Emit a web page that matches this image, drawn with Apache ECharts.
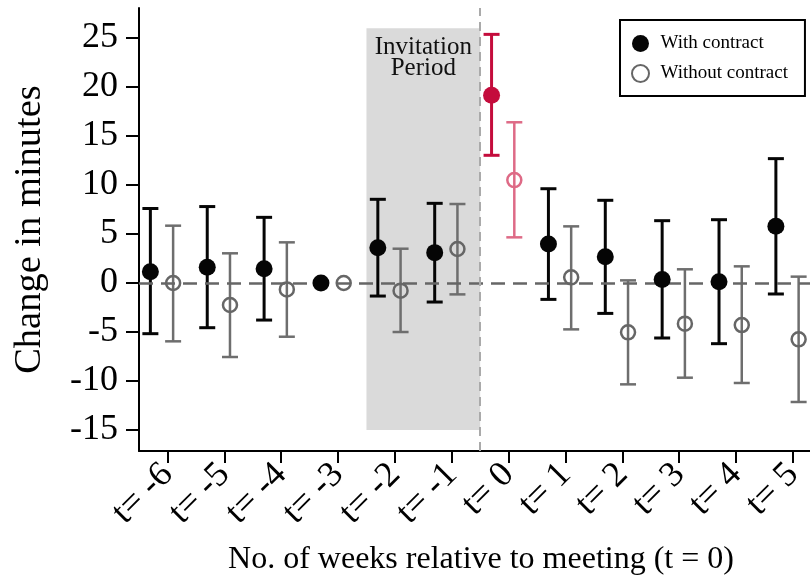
<!DOCTYPE html>
<html>
<head>
<meta charset="utf-8">
<script src="https://cdn.jsdelivr.net/npm/echarts@6/dist/echarts.min.js"></script>
<style>html,body{margin:0;padding:0;background:#fff}#c{width:810px;height:581px}</style>
</head>
<body>
<div id="c"></div>
<script>
// ---- data ----
var weeks = [-6, -5, -4, -3, -2, -1, 0, 1, 2, 3, 4, 5];
var weekLabels = ['t= -6','t= -5','t= -4','t= -3','t= -2','t= -1','t= 0','t= 1','t= 2','t= 3','t= 4','t= 5'];
var yTicks = [-15, -10, -5, 0, 5, 10, 15, 20, 25];
var withMean = [1.15, 1.6, 1.46, 0, 3.6, 3.1, 19.15, 3.98, 2.69, 0.37, 0.14, 5.78];
var withLo   = [-5.17, -4.56, -3.78, null, -1.33, -1.94, 13.03, -1.67, -3.1, -5.61, -6.19, -1.12];
var withHi   = [7.6, 7.8, 6.7, null, 8.54, 8.13, 25.37, 9.62, 8.44, 6.36, 6.46, 12.69];
var withoutMean = [0, -2.24, -0.65, 0, -0.78, 3.47, 10.5, 0.58, -5.03, -4.15, -4.29, -5.75];
var withoutLo   = [-5.95, -7.55, -5.48, null, -5.0, -1.16, 4.66, -4.73, -10.34, -9.66, -10.2, -12.14];
var withoutHi   = [5.85, 3.03, 4.15, null, 3.5, 8.06, 16.4, 5.78, 0.27, 1.4, 1.7, 0.65];
var invitationPeriod = [-2.5, -0.5];
var meetingLine = -0.5;

// ---- style ----
var FONT = 'Liberation Serif';
var OFF_WITH = -0.3, OFF_WITHOUT = 0.1;
var BLACK = '#050505', GRAY = '#666666', GRAYBAR = '#6e6e6e';
var CRIMSON = '#C40C3C', PINK = '#DE6A86';

function scatterData(means, off, hiColor, hollow) {
  return weeks.map(function (w, i) {
    var d = { value: [w + off, means[i]] };
    if (w === 0) {
      d.itemStyle = hollow ? { color: 'transparent', borderColor: hiColor, borderWidth: 2.5 } : { color: hiColor };
    }
    return d;
  });
}
function barData(lo, hi, off) {
  var out = [];
  weeks.forEach(function (w, i) {
    if (lo[i] !== null && hi[i] !== null) out.push([w + off, lo[i], hi[i], w]);
  });
  return out;
}
function barSeries(data, color, hiColor, lw, z) {
  return {
    type: 'custom', data: data, z: z, silent: true,
    encode: { x: 0, y: [1, 2] },
    renderItem: function (params, api) {
      var x = api.value(0), l = api.value(1), h = api.value(2), w = api.value(3);
      var pt = api.coord([x, h]), pb = api.coord([x, l]);
      var c = (w === 0) ? hiColor : color;
      var cw = 8;
      var st = { stroke: c, lineWidth: lw, fill: null };
      return {
        type: 'group',
        children: [
          { type: 'line', shape: { x1: pt[0], y1: pt[1], x2: pb[0], y2: pb[1] }, style: st },
          { type: 'line', shape: { x1: pt[0] - cw, y1: pt[1], x2: pt[0] + cw, y2: pt[1] }, style: st },
          { type: 'line', shape: { x1: pb[0] - cw, y1: pb[1], x2: pb[0] + cw, y2: pb[1] }, style: st }
        ]
      };
    }
  };
}

var chart = echarts.init(document.getElementById('c'), null, { renderer: 'canvas' });
chart.setOption({
  animation: false,
  textStyle: { fontFamily: FONT },
  grid: { left: 139, right: 0, top: 8, bottom: 130 },
  legend: {
    left: 620, top: 20, orient: 'vertical',
    data: ['With contract', 'Without contract'],
    itemWidth: 30, itemHeight: 17, itemGap: 11,
    padding: [14, 17, 13, 11],
    borderColor: '#000', borderWidth: 2, backgroundColor: '#fff',
    textStyle: { fontFamily: FONT, fontSize: 19, color: '#000', lineHeight: 17 }
  },
  xAxis: {
    type: 'value', min: -6.5, max: 5.3,
    name: 'No. of weeks relative to meeting (t = 0)', nameLocation: 'middle', nameGap: 93,
    nameTextStyle: { fontFamily: FONT, fontSize: 32, color: '#000', padding: [0, 0, 0, 13] },
    axisLine: { onZero: false, lineStyle: { color: '#000', width: 2 } },
    axisTick: { customValues: weeks, length: 12, lineStyle: { color: '#000', width: 2 } },
    axisLabel: {
      customValues: weeks, rotate: 45, margin: 18,
      fontFamily: FONT, fontSize: 36, color: '#000',
      formatter: function (v) { var i = weeks.indexOf(Math.round(v)); return i >= 0 ? weekLabels[i] : ''; }
    },
    splitLine: { show: false }
  },
  yAxis: {
    type: 'value', min: -17.14, max: 28.06,
    name: 'Change in minutes', nameLocation: 'middle', nameGap: 90,
    nameTextStyle: { fontFamily: FONT, fontSize: 38.5, color: '#000' },
    axisLine: { show: true, onZero: false, lineStyle: { color: '#000', width: 2 } },
    axisTick: { show: true, customValues: yTicks, length: 13, lineStyle: { color: '#000', width: 2 } },
    axisLabel: { customValues: yTicks, margin: 21, fontFamily: FONT, fontSize: 36, color: '#000' },
    splitLine: { show: false }
  },
  series: [
    {
      type: 'line', data: [], z: 1, silent: true,
      markArea: {
        silent: true,
        itemStyle: { color: '#dadada' },
        label: {
          show: true, position: 'insideTop', distance: 9,
          formatter: 'Invitation\nPeriod',
          fontFamily: FONT, fontSize: 25, lineHeight: 21, color: '#111'
        },
        data: [[{ xAxis: invitationPeriod[0], yAxis: -15 }, { xAxis: invitationPeriod[1], yAxis: 26 }]]
      },
      markLine: {
        silent: true, symbol: 'none', animation: false,
        label: { show: false },
        data: [
          { yAxis: 0, lineStyle: { color: '#666', width: 2.5, type: [14, 8] } },
          { xAxis: meetingLine, lineStyle: { color: '#aaaaaa', width: 2, type: [9, 6] } }
        ]
      }
    },
    barSeries(barData(withLo, withHi, OFF_WITH), BLACK, CRIMSON, 3, 3),
    barSeries(barData(withoutLo, withoutHi, OFF_WITHOUT), GRAYBAR, PINK, 2.5, 3),
    {
      name: 'With contract', type: 'scatter', z: 5, symbol: 'circle', symbolSize: 17,
      itemStyle: { color: BLACK, opacity: 1 },
      data: scatterData(withMean, OFF_WITH, CRIMSON, false)
    },
    {
      name: 'Without contract', type: 'scatter', z: 5, symbol: 'circle', symbolSize: 14,
      itemStyle: { color: 'transparent', borderColor: GRAY, borderWidth: 2.5, opacity: 1 },
      data: scatterData(withoutMean, OFF_WITHOUT, PINK, true)
    }
  ]
});
</script>
</body>
</html>
